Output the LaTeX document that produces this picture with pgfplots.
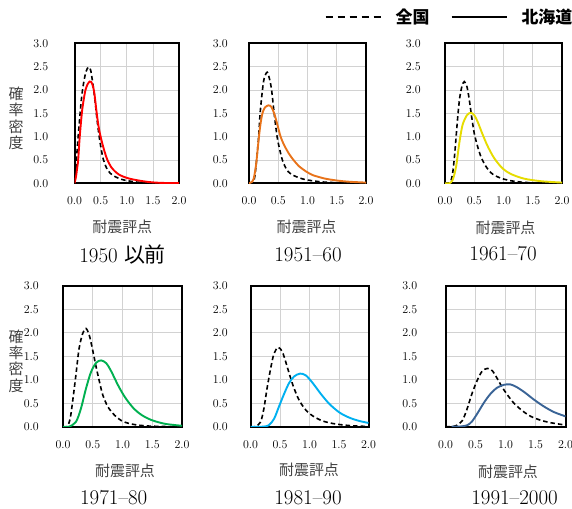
\documentclass[border=0pt]{standalone}
\usepackage{fontspec}
\usepackage{pgfplots}
\pgfplotsset{compat=1.18}
\newfontfamily\jp{Noto Sans CJK JP}
\definecolor{cRed}{HTML}{FF0000}
\definecolor{cOrange}{HTML}{E8731A}
\definecolor{cYellow}{HTML}{E6DC00}
\definecolor{cGreen}{HTML}{00B050}
\definecolor{cCyan}{HTML}{00B0F0}
\definecolor{cBlue}{HTML}{3A6496}
\definecolor{lbl}{HTML}{404040}
\pgfplotsset{
 myax/.style={
  scale only axis, anchor=south west,
  xmin=0,xmax=2,ymin=0,ymax=3,
  xtick={0,0.5,1,1.5,2}, ytick={0,0.5,1,1.5,2,2.5,3},
  /pgf/number format/fixed, /pgf/number format/fixed zerofill, /pgf/number format/precision=1,
  grid=major, major grid style={gray!35, line width=0.6bp},
  axis line style={line width=2bp},
  major tick length=0pt,
  tick label style={font=\fontsize{11.5}{12}\selectfont},
  xticklabel style={anchor=center, yshift=-17.5bp, inner sep=0pt},
  yticklabel style={anchor=east, inner sep=0pt, xshift=-12bp},
 },
 nat/.style={black, line width=1.6bp, dash pattern=on 4.5bp off 3bp, smooth},
 hk/.style={line width=1.9bp, smooth},
}
\begin{document}
\begin{tikzpicture}[x=1bp,y=1bp]
\path[use as bounding box] (0,0) rectangle (572,509);
% ---------- 1950
\begin{axis}[myax, at={(74.5bp,325.7bp)}, width=104.5bp, height=140bp, yticklabel style={xshift=-14bp}]
\addplot[nat] coordinates {(0,0)(0.02,0.15)(0.04,0.55)(0.07,1.0)(0.1,1.4)(0.13,1.78)(0.16,2.05)(0.2,2.3)(0.24,2.45)(0.28,2.49)(0.31,2.42)(0.34,2.22)(0.37,1.98)(0.40,1.7)(0.43,1.38)(0.47,1.02)(0.51,0.74)(0.55,0.52)(0.6,0.36)(0.65,0.26)(0.72,0.18)(0.8,0.13)(0.9,0.085)(1.0,0.058)(1.2,0.025)(1.4,0.01)(1.7,0.003)(2.0,0)};
\addplot[hk, cRed] coordinates {(0,0)(0.03,0.15)(0.05,0.32)(0.07,0.5)(0.1,1.0)(0.14,1.5)(0.17,1.75)(0.21,2.0)(0.25,2.12)(0.29,2.18)(0.32,2.17)(0.35,2.09)(0.38,1.93)(0.42,1.55)(0.46,1.22)(0.51,0.95)(0.57,0.7)(0.63,0.5)(0.7,0.35)(0.78,0.25)(0.86,0.18)(0.94,0.14)(1.05,0.1)(1.2,0.065)(1.4,0.03)(1.6,0.012)(1.8,0.005)(2.0,0.002)};
\end{axis}
% ---------- 1951-60
\begin{axis}[myax, at={(249bp,325.7bp)}, width=117bp, height=140bp, yticklabel style={xshift=-9bp}]
\addplot[nat] coordinates {(0,0)(0.05,0)(0.08,0.05)(0.1,0.15)(0.13,0.5)(0.165,1.0)(0.19,1.5)(0.23,2.0)(0.26,2.25)(0.31,2.38)(0.35,2.24)(0.386,2.0)(0.43,1.5)(0.48,1.0)(0.52,0.75)(0.57,0.5)(0.62,0.35)(0.67,0.25)(0.74,0.18)(0.81,0.14)(0.9,0.1)(1.0,0.07)(1.2,0.035)(1.4,0.017)(1.7,0.006)(2.0,0.002)};
\addplot[hk, cOrange] coordinates {(0,0)(0.05,0.03)(0.08,0.1)(0.11,0.3)(0.13,0.5)(0.17,1.0)(0.2,1.3)(0.23,1.5)(0.27,1.62)(0.33,1.67)(0.38,1.64)(0.43,1.5)(0.48,1.28)(0.54,1.0)(0.6,0.82)(0.68,0.64)(0.76,0.5)(0.86,0.36)(0.98,0.25)(1.08,0.18)(1.18,0.14)(1.3,0.1)(1.44,0.07)(1.6,0.045)(1.75,0.03)(2.0,0.015)};
\end{axis}
% ---------- 1961-70
\begin{axis}[myax, at={(445bp,325.7bp)}, width=117bp, height=140bp, yticklabel style={xshift=-12bp},
  legend style={at={(1.09,1.19)}, anchor=east, draw=none, fill=none, inner sep=0pt, legend columns=2,
    nodes={inner sep=0pt},
    font=\jp\bfseries\fontsize{17}{18}\selectfont,
    /tikz/every odd column/.append style={column sep=14bp},
    /tikz/every even column/.append style={column sep=21bp}},
  legend image code/.code={\draw[#1] (0bp,0bp) -- (55bp,0bp);}]
\addlegendimage{black, line width=2bp, dash pattern=on 7bp off 5bp}
\addlegendentry{全国}
\addlegendimage{black, line width=2bp}
\addlegendentry{北海道}
\addplot[nat] coordinates {(0,0)(0.06,0)(0.1,0.05)(0.13,0.21)(0.16,0.55)(0.19,1.0)(0.216,1.4)(0.25,1.82)(0.29,2.08)(0.33,2.18)(0.375,2.07)(0.415,1.79)(0.455,1.43)(0.5,1.07)(0.557,0.79)(0.614,0.57)(0.7,0.36)(0.81,0.2)(0.955,0.11)(1.125,0.055)(1.35,0.02)(1.64,0.006)(2.0,0.001)};
\addplot[hk, cYellow] coordinates {(0,0)(0.07,0)(0.13,0.07)(0.19,0.36)(0.244,0.86)(0.3,1.25)(0.375,1.46)(0.443,1.51)(0.5,1.46)(0.557,1.32)(0.642,1.05)(0.727,0.8)(0.84,0.54)(0.983,0.32)(1.125,0.2)(1.35,0.1)(1.64,0.045)(2.0,0.015)};
\end{axis}
% ---------- 1971-80
\begin{axis}[myax, at={(63bp,82.3bp)}, width=119bp, height=141bp, yticklabel style={xshift=-12bp}]
\addplot[nat] coordinates {(0,0)(0.07,0)(0.12,0.17)(0.16,0.52)(0.216,1.09)(0.27,1.66)(0.33,1.98)(0.386,2.09)(0.443,1.94)(0.5,1.62)(0.557,1.27)(0.614,0.95)(0.67,0.67)(0.756,0.42)(0.87,0.24)(1.01,0.11)(1.21,0.043)(1.44,0.014)(1.72,0.003)(2.0,0)};
\addplot[hk, cGreen] coordinates {(0,0)(0.1,0)(0.216,0.1)(0.3,0.38)(0.386,0.81)(0.47,1.16)(0.557,1.36)(0.64,1.41)(0.727,1.35)(0.81,1.18)(0.926,0.88)(1.04,0.63)(1.18,0.4)(1.32,0.25)(1.49,0.14)(1.72,0.06)(2.0,0.02)};
\end{axis}
% ---------- 1981-90
\begin{axis}[myax, at={(250.5bp,82.3bp)}, width=118bp, height=141bp, yticklabel style={xshift=-10.5bp}]
\addplot[nat] coordinates {(0,0)(0.083,0)(0.17,0.1)(0.226,0.38)(0.28,0.81)(0.34,1.23)(0.397,1.55)(0.47,1.69)(0.54,1.59)(0.597,1.38)(0.666,1.09)(0.74,0.81)(0.826,0.56)(0.94,0.35)(1.054,0.23)(1.226,0.12)(1.454,0.055)(1.74,0.018)(2.0,0.005)};
\addplot[hk, cCyan] coordinates {(0,0)(0.2,0)(0.31,0.03)(0.40,0.17)(0.48,0.42)(0.57,0.70)(0.654,0.93)(0.74,1.07)(0.84,1.13)(0.94,1.09)(1.054,0.93)(1.197,0.69)(1.34,0.48)(1.51,0.3)(1.68,0.19)(1.85,0.12)(2.0,0.08)};
\end{axis}
% ---------- 1991-2000
\begin{axis}[myax, at={(445.5bp,82.3bp)}, width=120bp, height=141bp, yticklabel style={xshift=-16bp}]
\addplot[nat] coordinates {(0,0)(0.1,0)(0.19,0.03)(0.28,0.13)(0.36,0.38)(0.44,0.7)(0.53,0.99)(0.61,1.18)(0.7,1.24)(0.78,1.19)(0.86,1.03)(0.94,0.85)(1.03,0.68)(1.14,0.5)(1.28,0.34)(1.42,0.22)(1.58,0.14)(1.75,0.085)(2.0,0.035)};
\addplot[hk, cBlue] coordinates {(0.1,0)(0.25,0.005)(0.36,0.03)(0.44,0.11)(0.53,0.28)(0.64,0.51)(0.75,0.70)(0.86,0.83)(0.97,0.89)(1.08,0.90)(1.19,0.84)(1.33,0.72)(1.47,0.58)(1.64,0.43)(1.81,0.31)(2.0,0.22)};
\end{axis}
% ---------- labels
\begin{scope}[every node/.style={font=\jp\fontsize{15}{16}\selectfont, text=lbl}]
\node at (122.3,282.5) {耐震評点};
\node at (306.5,282) {耐震評点};
\node at (505.5,281.5) {耐震評点};
\node at (125,38) {耐震評点};
\node at (309,39) {耐震評点};
\node at (508,37.5) {耐震評点};
\node[align=center, font=\jp\fontsize{15}{16.5}\selectfont] at (16,390.7) {確\\率\\密\\度};
\node[align=center, font=\jp\fontsize{15}{16.5}\selectfont] at (16,148) {確\\率\\密\\度};
\end{scope}
\begin{scope}[every node/.style={font=\fontsize{21}{22}\selectfont}]
\node at (122.6,254) {1950 {\jp 以前}};
\node at (308,254) {1951--60};
\node at (503,255.5) {1961--70};
\node at (113.7,11.5) {1971--80};
\node at (308,11.5) {1981--90};
\node at (514.5,11.5) {1991--2000};
\end{scope}
\end{tikzpicture}
\end{document}
